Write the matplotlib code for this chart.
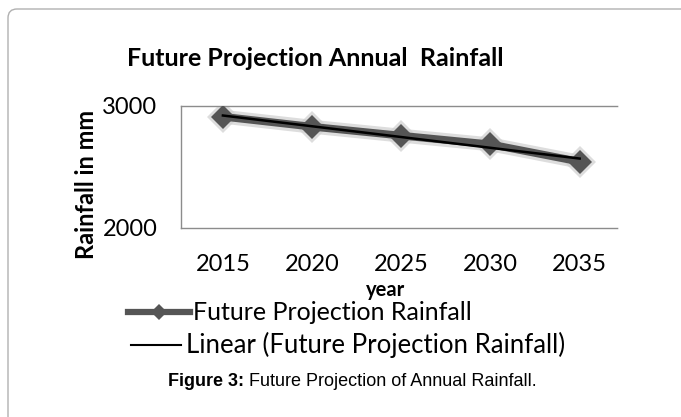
import numpy as np
import matplotlib
matplotlib.use("Agg")
import matplotlib.pyplot as plt
from matplotlib.patches import FancyBboxPatch
from matplotlib.lines import Line2D
from matplotlib.transforms import IdentityTransform

years = ["2015", "2020", "2025", "2030", "2035"]
rainfall = [2910, 2828, 2755, 2684, 2542]
title = "Future Projection Annual  Rainfall"
series_name = "Future Projection Rainfall"
trend_name = "Linear (Future Projection Rainfall)"

W, H = 681, 417
plt.rcParams['font.family'] = ['Lato', 'DejaVu Sans']
fig = plt.figure(figsize=(W / 100, H / 100), dpi=100)

# outer frame
frame = FancyBboxPatch((8, -40), 720, 417 - 9 + 40,
                       boxstyle="round,pad=0,rounding_size=9",
                       transform=IdentityTransform(), facecolor='none',
                       edgecolor='#b0b0b0', linewidth=1.0, zorder=-5)
fig.patches.append(frame)

def fx(px):
    return px / W

def fy(py):
    return 1 - py / H

ax = fig.add_axes([fx(181), fy(228), fx(618) - fx(181), fy(105.7) - fy(228)])
ax.set_facecolor('none')
x = np.arange(len(years))

# glow + series
ax.plot(x, rainfall, color='#cfcfcf', linewidth=10, alpha=0.7,
        marker='D', markersize=16, markeredgewidth=0, solid_capstyle='round', zorder=2)
ax.plot(x, rainfall, color='#555555', linewidth=5.5, marker='D', markersize=12,
        markeredgewidth=0, zorder=3)
# linear trendline
coef = np.polyfit(x, rainfall, 1)
ax.plot(x, np.polyval(coef, x), color='black', linewidth=1.8, zorder=4)

ax.set_xlim(-0.47, 4.43)
ax.set_ylim(2000, 3000)
ax.set_yticks([2000, 3000])
ax.set_xticks(x)
ax.set_xticklabels(years)
ax.tick_params(axis='both', length=0, labelsize=17, colors='black')
ax.tick_params(axis='y', pad=17)
ax.tick_params(axis='x', pad=19)
for s in ['top', 'bottom', 'left']:
    ax.spines[s].set_color('#8c8c8c')
    ax.spines[s].set_linewidth(1.0)
    ax.spines[s].set_linestyle((0, (2, 1)))
ax.spines['left'].set_linestyle('-')
ax.spines['right'].set_visible(False)

fig.text(fx(315), fy(58), title, ha='center', va='center', fontsize=18,
         fontweight='bold')
fig.text(fx(86), fy(184), "Rainfall in mm", ha='center', va='center',
         rotation=90, fontsize=17, fontweight='bold')
fig.text(fx(386), fy(290), "year", ha='center', va='center', fontsize=14.5,
         fontweight='bold')

# legend (manual)
l1 = Line2D([fx(128), fx(190)], [fy(312), fy(312)], transform=fig.transFigure,
            color='#555555', linewidth=4.5)
m1 = Line2D([fx(159)], [fy(312)], transform=fig.transFigure, color='#555555',
            marker='D', markersize=8, markeredgewidth=0)
l2 = Line2D([fx(131), fx(181)], [fy(345), fy(345)], transform=fig.transFigure,
            color='black', linewidth=1.5)
fig.lines.extend([l1, m1, l2])
fig.text(fx(193), fy(312), series_name, ha='left', va='center', fontsize=18)
fig.text(fx(186), fy(345), trend_name, ha='left', va='center', fontsize=18.5)

# caption
split = 244
fig.text(fx(split), fy(382), "Figure 3:", ha='right', va='center', fontsize=13,
         fontweight='bold', family=['Liberation Sans'])
fig.text(fx(split + 5), fy(382), "Future Projection of Annual Rainfall.", ha='left',
         va='center', fontsize=13, family=['Liberation Sans'])

fig.savefig("out.png", dpi=100)
